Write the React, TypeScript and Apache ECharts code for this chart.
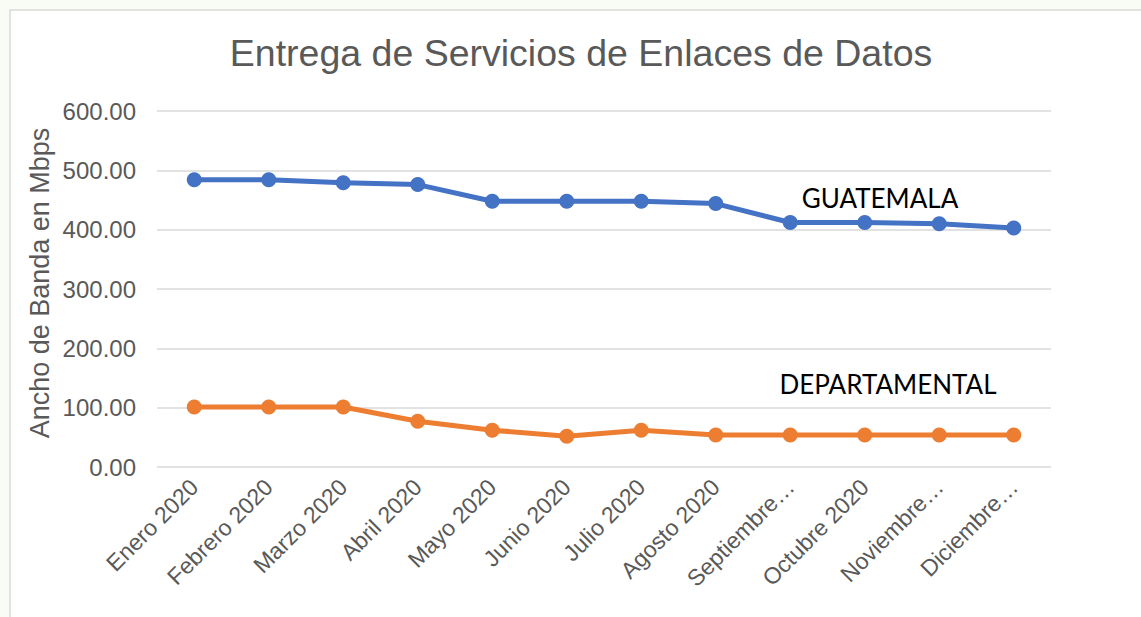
import React, { useEffect, useRef } from "react";
import * as echarts from "echarts";

const categories = [
  "Enero 2020",
  "Febrero 2020",
  "Marzo 2020",
  "Abril 2020",
  "Mayo 2020",
  "Junio 2020",
  "Julio 2020",
  "Agosto 2020",
  "Septiembre 2020",
  "Octubre 2020",
  "Noviembre 2020",
  "Diciembre 2020",
];

const guatemala = [484, 484, 479, 476, 448, 448, 448, 444, 412, 412, 410, 403];
const departamental = [101, 101, 101, 77, 62, 52, 62, 54, 54, 54, 54, 54];

const yTicks = { min: 0, max: 600, interval: 100 };

const title = "Entrega de Servicios de Enlaces de Datos";
const yName = "Ancho de Banda en Mbps";

export default function App() {
  const ref = useRef<HTMLDivElement>(null);

  useEffect(() => {
    if (!ref.current) return;
    const chart = echarts.init(ref.current, null, { renderer: "svg" });
    const font = "'Liberation Sans', Arial, sans-serif";
    chart.setOption({
      animation: false,
      backgroundColor: "transparent",
      title: {
        text: title,
        left: 576,
        top: 29,
        textAlign: "center",
        textStyle: {
          fontFamily: font,
          fontSize: 37.5,
          fontWeight: "normal",
          color: "#595959",
        },
      },
      grid: { left: 157, right: 90, top: 111, bottom: 150, containLabel: false },
      xAxis: {
        type: "category",
        data: categories,
        boundaryGap: true,
        axisLine: { show: false },
        axisTick: { show: false },
        axisLabel: {
          rotate: 45,
          margin: 16,
          interval: 0,
          fontFamily: font,
          fontSize: 23,
          color: "#595959",
          formatter: (v: string) => (v.length > 12 ? v.split(" ")[0] + "…" : v),
        },
      },
      yAxis: {
        type: "value",
        min: yTicks.min,
        max: yTicks.max,
        interval: yTicks.interval,
        axisLine: { show: false },
        axisTick: { show: false },
        splitLine: { lineStyle: { color: "#d9d9d9", width: 1.5 } },
        axisLabel: {
          margin: 21,
          fontFamily: font,
          fontSize: 24,
          color: "#595959",
          formatter: (v: number) => v.toFixed(2),
        },
      },
      graphic: [
        {
          type: "rect",
          z: -10,
          silent: true,
          shape: { x: 10, y: 10, width: 1200, height: 700 },
          style: { fill: "#ffffff", stroke: "#d9d9d9", lineWidth: 1.5 },
        },
        {
          type: "text",
          x: 40,
          y: 283,
          rotation: Math.PI / 2,
          style: {
            text: yName,
            fontFamily: font,
            fontSize: 27,
            fill: "#595959",
            textAlign: "center",
            textVerticalAlign: "middle",
          },
        },
        {
          type: "text",
          x: 880,
          y: 198,
          style: {
            text: "GUATEMALA",
            fontFamily: "Lato, 'Open Sans', sans-serif",
            fontSize: 26,
            fill: "#000000",
            textAlign: "center",
            textVerticalAlign: "middle",
          },
        },
        {
          type: "text",
          x: 888,
          y: 384,
          style: {
            text: "DEPARTAMENTAL",
            fontFamily: "Lato, 'Open Sans', sans-serif",
            fontSize: 26,
            fill: "#000000",
            textAlign: "center",
            textVerticalAlign: "middle",
          },
        },
      ],
      series: [
        {
          name: "GUATEMALA",
          type: "line",
          data: guatemala,
          symbol: "circle",
          symbolSize: 15,
          lineStyle: { color: "#4472C4", width: 5 },
          itemStyle: { color: "#4472C4" },
        },
        {
          name: "DEPARTAMENTAL",
          type: "line",
          data: departamental,
          symbol: "circle",
          symbolSize: 15,
          lineStyle: { color: "#ED7D31", width: 5 },
          itemStyle: { color: "#ED7D31" },
        },
      ],
    });
    return () => chart.dispose();
  }, []);

  return (
    <div
      style={{
        position: "fixed",
        left: 0,
        top: 0,
        width: 1141,
        height: 617,
        background: "#f9fcf5",
      }}
    >
      <div ref={ref} style={{ width: 1141, height: 617 }} />
    </div>
  );
}
